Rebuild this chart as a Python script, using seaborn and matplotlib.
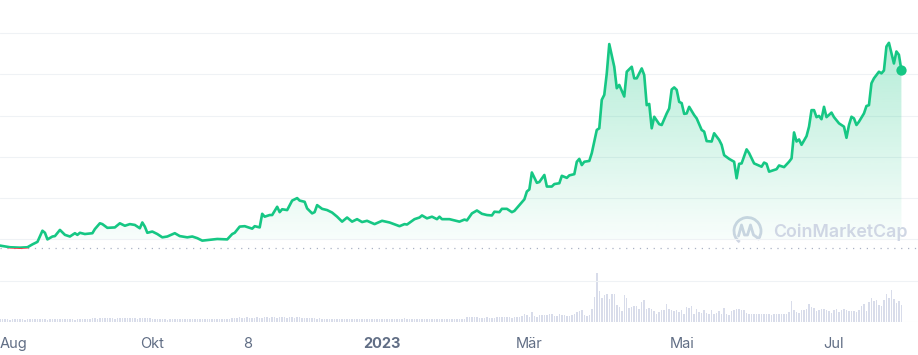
import numpy as np
import pandas as pd
import matplotlib
matplotlib.use("Agg")
import matplotlib.pyplot as plt
import matplotlib.dates as mdates
from matplotlib.path import Path
from matplotlib.patches import Arc, Rectangle, PathPatch
from matplotlib.transforms import IdentityTransform
import seaborn as sns

# ---------------- data ----------------
start = "2022-08-01"

price_day = [0, 4, 8, 11, 13, 15, 17, 18, 19, 21, 22, 24, 26, 28, 30, 31, 32, 34, 37, 38,
             40, 41, 43, 46, 48, 50, 52, 54, 56, 57, 58, 59, 61, 63, 65, 67, 70, 72, 75, 77,
             79, 81, 84, 87, 91, 93, 94, 96, 98, 101, 102, 104, 105, 106, 108, 109, 111, 112, 113, 115,
             117, 119, 120, 122, 123, 125, 126, 127, 129, 131, 133, 135, 137, 139, 141, 143, 145, 147, 150, 153,
             156, 160, 162, 163, 166, 168, 169, 171, 173, 175, 176, 177, 180, 182, 184, 186, 187, 189, 191, 193,
             195, 197, 198, 200, 201, 203, 205, 206, 208, 210, 211, 212, 213, 215, 216, 218, 219, 221, 222, 224,
             225, 227, 228, 230, 231, 232, 233, 234, 236, 237, 239, 240, 241, 242, 243, 244, 246, 247, 248, 250,
             251, 253, 254, 255, 257, 258, 259, 260, 261, 262, 264, 265, 267, 268, 269, 270, 271, 272, 273, 274,
             275, 276, 278, 279, 281, 282, 283, 285, 286, 288, 289, 290, 292, 294, 295, 296, 297, 299, 300, 302,
             305, 306, 307, 308, 310, 311, 312, 314, 316, 317, 318, 319, 320, 321, 323, 324, 325, 326, 327, 328,
             329, 330, 331, 333, 334, 336, 338, 339, 340, 341, 342, 343, 344, 346, 347, 348, 349, 350, 352, 353,
             354, 355, 356, 358, 359, 360, 361]

price_value = [1.85, 1.81, 1.80, 1.81, 1.88, 1.94, 2.21, 2.16, 2.00, 2.07, 2.08, 2.23, 2.11, 2.07, 2.15, 2.11, 2.16, 2.13, 2.15, 2.25,
               2.39, 2.37, 2.28, 2.29, 2.39, 2.33, 2.37, 2.35, 2.27, 2.41, 2.31, 2.16, 2.19, 2.13, 2.05, 2.07, 2.15, 2.08, 2.05, 2.07,
               2.03, 1.97, 1.99, 2.01, 2.00, 2.13, 2.16, 2.31, 2.32, 2.26, 2.32, 2.29, 2.62, 2.55, 2.59, 2.59, 2.79, 2.66, 2.73, 2.71,
               2.94, 3.00, 2.94, 2.91, 2.75, 2.63, 2.66, 2.83, 2.74, 2.71, 2.65, 2.55, 2.43, 2.53, 2.43, 2.49, 2.42, 2.45, 2.37, 2.45,
               2.41, 2.32, 2.37, 2.36, 2.49, 2.53, 2.58, 2.51, 2.55, 2.49, 2.55, 2.49, 2.49, 2.46, 2.43, 2.48, 2.46, 2.63, 2.70, 2.62,
               2.59, 2.58, 2.67, 2.66, 2.74, 2.74, 2.66, 2.69, 2.83, 2.97, 3.16, 3.21, 3.62, 3.37, 3.39, 3.56, 3.28, 3.28, 3.34, 3.36,
               3.54, 3.49, 3.55, 3.58, 3.88, 3.95, 3.80, 3.88, 3.90, 4.09, 4.65, 4.69, 5.38, 5.50, 6.02, 6.73, 6.18, 5.66, 5.74, 5.46,
               6.06, 6.18, 5.90, 5.90, 6.14, 5.98, 5.25, 5.28, 4.69, 4.97, 4.79, 4.77, 5.05, 5.17, 5.63, 5.68, 5.62, 5.33, 5.30, 5.04,
               5.05, 5.21, 5.01, 4.93, 4.65, 4.61, 4.38, 4.37, 4.57, 4.41, 4.29, 4.04, 3.95, 3.88, 3.48, 3.83, 3.84, 4.18, 4.09, 3.84,
               3.76, 3.86, 3.83, 3.64, 3.68, 3.70, 3.79, 3.75, 3.88, 3.96, 4.59, 4.37, 4.42, 4.29, 4.50, 4.73, 5.13, 5.13, 4.96, 4.99,
               4.91, 5.21, 4.96, 5.07, 4.96, 4.81, 4.73, 4.46, 4.77, 4.97, 4.93, 4.77, 4.85, 5.05, 5.23, 5.25, 5.78, 5.90, 6.06, 6.02,
               6.09, 6.67, 6.76, 6.26, 6.55, 6.47, 6.09]

# daily volume, one value per day from 2022-08-01
volume = [3, 3, 3, 3, 2, 3, 3, 3, 3, 3, 2, 3, 3, 3, 3, 3, 3, 3, 3, 2, 3, 3, 3, 3, 3, 3, 3, 3, 3, 3, 2, 3, 3, 3, 3, 3, 3,
          4, 4, 3, 4, 4, 4, 4, 4, 4, 3, 4, 4, 4, 4, 4, 4, 4, 4, 3, 4, 4, 4, 4, 4,
          3, 3, 3, 3, 3, 3, 2, 3, 3, 3, 3, 3, 3, 3, 3, 3, 3, 3, 3, 3, 3, 3, 3, 3, 3, 3, 3, 3, 3, 3, 3, 3,
          4, 4, 4, 5, 4, 4, 5, 4, 4, 4, 5, 4, 4, 5, 5, 4, 5, 5, 4, 5, 5, 5, 4, 5, 5, 4, 5, 5, 4, 4,
          4, 4, 4, 4, 3, 4, 3, 3, 3, 3, 3, 3, 3, 3, 3, 3, 3, 3, 3, 3, 3, 3, 3, 3, 3, 3, 3, 3, 3, 3, 3, 3,
          3, 3, 3, 3, 3, 3, 3, 4, 3, 3, 3, 3, 3, 3, 3, 3, 3, 3, 3, 3, 3, 3, 3, 3, 3, 3, 3, 3, 3, 3, 3, 3,
          5, 5, 5, 5, 5, 4, 4, 4, 5, 4, 4, 4, 5, 5, 5, 5, 5, 5, 4, 5, 5, 5,
          6, 8, 7, 5, 10, 6, 5, 7, 7, 7, 7, 8, 8, 6, 6, 8, 7, 7, 6, 6, 7, 8, 10, 11, 12, 7, 6, 7, 13, 25,
          49, 31, 24, 27, 28, 23,
          28, 28,
          17, 15, 11, 27, 24, 14, 15, 16, 16, 13, 20, 22, 13, 14, 13, 11, 8, 10, 12, 12,
          18, 13, 12, 11, 12, 10, 12, 8, 15, 14, 16, 8, 13, 10, 9, 12, 9, 8, 12, 8,
          9, 11, 8, 14, 8, 7, 11, 12, 13, 13, 12, 12, 9, 8, 8, 8, 8, 8, 8, 8,
          8, 8, 7, 8, 8, 8, 8, 8, 8, 10, 21, 12, 10, 9, 12, 12, 13, 18, 15, 14,
          11, 12, 13, 13, 12, 11, 9, 12, 13, 10, 12, 13, 12, 11, 11, 11, 10, 12, 16, 18,
          11, 20, 24, 21, 22, 17, 16, 22, 28, 24, 32, 23, 19, 21, 17]

base_price = 1.80          # opening price (dotted reference line)
fill_floor = 2.0
tick_dates = ["2022-08-01", "2022-10-01", "2022-11-08", "2023-01-01", "2023-03-01", "2023-05-01", "2023-07-01"]
tick_labels = ["Aug", "Okt", "8", "2023", "Mär", "Mai", "Jul"]

# ---------------- style ----------------
GREEN = "#16c784"
RED = "#ea3943"
GRID = "#eff2f5"
LABEL = "#616e85"
WATER = "#cfd6e4"
VOLC = "#d8dcea"

sns.set_theme(style="white")
plt.rcParams["font.family"] = ["Inter", "DejaVu Sans"]

W, H = 918, 355
fig = plt.figure(figsize=(W / 100, H / 100), dpi=100)
fig.patch.set_facecolor("white")
ax = fig.add_axes([0, 33 / H, 1, 322 / H])

t0 = pd.Timestamp(start)
df = pd.DataFrame({"date": t0 + pd.to_timedelta(price_day, unit="D"), "price": price_value})
vdf = pd.DataFrame({"date": t0 + pd.to_timedelta(np.arange(len(volume)), unit="D"), "volume": volume})

x = mdates.date2num(df["date"])
y = np.asarray(price_value, dtype=float)
xmin = mdates.date2num(t0)
xmax = xmin + W / 2.497

# volume on twin axis
ax2 = ax.twinx()
ax2.bar(mdates.date2num(vdf["date"]), vdf["volume"], width=0.6, color=VOLC, linewidth=0)
ax2.set_ylim(0, 322)
ax2.axis("off")
ax.set_zorder(ax2.get_zorder() + 1)
ax.patch.set_visible(False)

# gradient area
coll = ax.fill_between(x, y, fill_floor, where=y >= fill_floor, interpolate=True,
                       facecolor="none", edgecolor="none")
clip = Path.make_compound_path(*coll.get_paths())
rgb = matplotlib.colors.to_rgb(GREEN)
n = 256
grad = np.zeros((n, 1, 4))
grad[:, 0, :3] = rgb
grad[:, 0, 3] = np.linspace(0.03, 0.32, n)
im = ax.imshow(grad, extent=[xmin, xmax, fill_floor, max(price_value)], aspect="auto",
               origin="lower", zorder=1, interpolation="bilinear")
im.set_clip_path(clip, ax.transData)

# dotted opening price line
ax.axhline(base_price, color="#aab2c4", lw=0.9, ls=(0, (1, 4.5)), zorder=2)

# price line (green above opening price, red below)
sns.lineplot(data=df, x="date", y="price", ax=ax, color=RED, linewidth=1.9, zorder=3)
red_line = ax.lines[-1]
red_line.set_clip_path(Rectangle((xmin - 10, base_price - 10), 1000, 10, transform=ax.transData))
sns.lineplot(data=df, x="date", y="price", ax=ax, color=GREEN, linewidth=1.9, zorder=4)
green_line = ax.lines[-1]
green_line.set_clip_path(Rectangle((xmin - 10, base_price), 1000, 20, transform=ax.transData))
for ln in (red_line, green_line):
    ln.set_solid_joinstyle("round")
    ln.set_solid_capstyle("round")

ax.scatter([x[-1]], [y[-1]], s=55, color=GREEN, zorder=5, linewidths=0)

# axes
ax.set_xlim(xmin, xmax)
ax.set_ylim(0, 322 / 41.3)
ax.set_yticks(range(0, 8))
ax.grid(axis="y", color=GRID, lw=0.8)
ax.grid(axis="x", visible=False)
ax.tick_params(axis="y", length=0, labelleft=False, labelright=False)
for s in ax.spines.values():
    s.set_visible(False)
ax.set_xlabel("")
ax.set_ylabel("")

ax.set_xticks(mdates.date2num(pd.to_datetime(tick_dates)))
ax.set_xticklabels(tick_labels)
ax.tick_params(axis="x", direction="inout", length=5, width=0.8, color="#dfe3ea",
               pad=8, labelsize=10.5, labelcolor=LABEL)
for lab in ax.get_xticklabels():
    if lab.get_text() == "2023":
        lab.set_fontweight("bold")
    if lab.get_text() == "Aug":
        lab.set_ha("left")

# watermark
fig.text(773 / W, 1 - 232 / H, "CoinMarketCap", ha="left", va="center",
         fontsize=12.8, fontweight="semibold", color=WATER)
idt = IdentityTransform()
cx, cy, r = 747.5, H - 231.0, 13.5
fig.add_artist(Arc((cx, cy), 2 * r, 2 * r, theta1=-35, theta2=235, lw=2.0,
                   color=WATER, transform=idt))
wave = Path([(cx - 9, cy - 5), (cx - 6, cy + 6), (cx - 3, cy - 4), (cx, cy - 4),
             (cx + 3, cy + 6), (cx + 6, cy - 4), (cx + 9, cy - 6), (cx + 11, cy - 8)],
            [Path.MOVETO, Path.LINETO, Path.LINETO, Path.LINETO,
             Path.LINETO, Path.LINETO, Path.LINETO, Path.LINETO])
fig.add_artist(PathPatch(wave, facecolor="none", edgecolor=WATER, lw=2.0,
                         transform=idt, joinstyle="round", capstyle="round"))

fig.savefig("out.png", dpi=100, facecolor="white")
